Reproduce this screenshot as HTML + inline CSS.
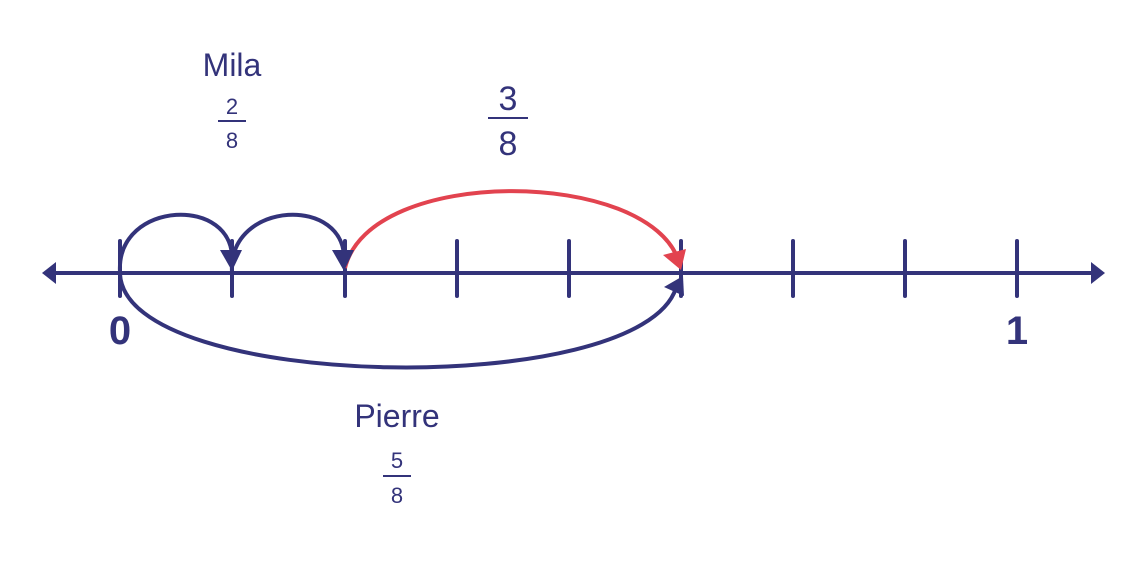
<!DOCTYPE html>
<html><head><style>
html,body{margin:0;padding:0;background:#fff;}
svg{display:block;}
text{font-family:"Liberation Sans",sans-serif;fill:#33337a;}
</style></head><body>
<svg width="1146" height="579" viewBox="0 0 1146 579">
<g stroke="#33337a" stroke-width="4" stroke-linecap="round" fill="none">
<line x1="52" y1="273" x2="1095" y2="273"/>
<line x1="120" y1="241" x2="120" y2="296"/>
<line x1="232" y1="241" x2="232" y2="296"/>
<line x1="345" y1="241" x2="345" y2="296"/>
<line x1="457" y1="241" x2="457" y2="296"/>
<line x1="569" y1="241" x2="569" y2="296"/>
<line x1="681" y1="241" x2="681" y2="296"/>
<line x1="793" y1="241" x2="793" y2="296"/>
<line x1="905" y1="241" x2="905" y2="296"/>
<line x1="1017" y1="241" x2="1017" y2="296"/>
<path d="M120,272 C116,200 236,195 232,262"/>
<path d="M232,272 C228,200 348,195 344,262"/>
<path d="M120,274 C126,392 640,400 676,288"/>
</g>
<path d="M345,268 C370,165 650,168 679,262" stroke="#e2434f" stroke-width="4" fill="none"/>
<g fill="#33337a">
<polygon points="42,273 56,262 56,284"/>
<polygon points="1105,273 1091,262 1091,284"/>
<polygon points="232,271 220,250 242,250"/>
<polygon points="344,271 332,250 354,250"/>
<polygon points="683,276 664,287 684,296"/>
</g>
<polygon points="681,270 663,255 686,249" fill="#e2434f"/>
<text x="232" y="76" font-size="32" text-anchor="middle">Mila</text>
<text x="232" y="114" font-size="22" text-anchor="middle">2</text>
<line x1="218" y1="121" x2="246" y2="121" stroke="#33337a" stroke-width="2"/>
<text x="232" y="148" font-size="22" text-anchor="middle">8</text>
<text x="508" y="110" font-size="34" text-anchor="middle">3</text>
<line x1="488" y1="118" x2="528" y2="118" stroke="#33337a" stroke-width="2"/>
<text x="508" y="155" font-size="34" text-anchor="middle">8</text>
<text x="120" y="344" font-size="40" font-weight="bold" text-anchor="middle">0</text>
<text x="1017" y="344" font-size="40" font-weight="bold" text-anchor="middle">1</text>
<text x="397" y="427" font-size="32" text-anchor="middle">Pierre</text>
<text x="397" y="468" font-size="22" text-anchor="middle">5</text>
<line x1="383" y1="476" x2="411" y2="476" stroke="#33337a" stroke-width="2"/>
<text x="397" y="503" font-size="22" text-anchor="middle">8</text>
</svg>
</body></html>
